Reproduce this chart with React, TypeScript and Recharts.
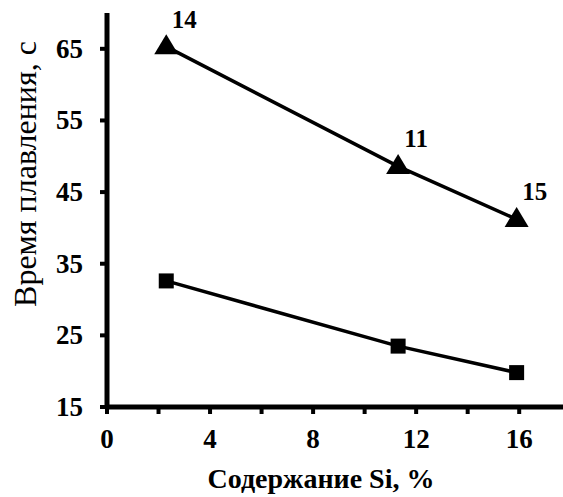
import React from 'react';
import { LineChart, Line, XAxis, YAxis, LabelList } from 'recharts';

// Содержание Si, %
const siContent = [2.3, 11.3, 15.9];
// Время плавления, с (верхняя серия — треугольники)
const upperTimes = [65.3, 48.6, 41.2];
// Номера образцов над треугольниками
const upperLabels = ['14', '11', '15'];
// Время плавления, с (нижняя серия — квадраты)
const lowerTimes = [32.6, 23.5, 19.8];

const xTicks = [0, 2, 4, 6, 8, 10, 12, 14, 16];
const yTicks = [15, 25, 35, 45, 55, 65];

const upperData = siContent.map((x, i) => ({ x, y: upperTimes[i], label: upperLabels[i] }));
const lowerData = siContent.map((x, i) => ({ x, y: lowerTimes[i] }));

const FONT = "'Liberation Serif', 'Times New Roman', serif";

const TriangleDot = (props: any) => {
  const { cx, cy } = props;
  if (cx == null || cy == null) return null;
  const w = 24;
  const h = 20;
  const pts = `${cx},${cy - h * 0.62} ${cx - w / 2},${cy + h * 0.38} ${cx + w / 2},${cy + h * 0.38}`;
  return <polygon points={pts} fill="#000" stroke="none" />;
};

const SquareDot = (props: any) => {
  const { cx, cy } = props;
  if (cx == null || cy == null) return null;
  const s = 15;
  return <rect x={cx - s / 2} y={cy - s / 2} width={s} height={s} fill="#000" />;
};

const XTick = (props: any) => {
  const { x, payload } = props;
  const v = payload.value;
  if (v % 4 !== 0) return null;
  return (
    <text x={x} y={448} textAnchor="middle" fontFamily={FONT} fontWeight="bold" fontSize={27} fill="#000">
      {v}
    </text>
  );
};

const YTick = (props: any) => {
  const { y, payload } = props;
  return (
    <text x={83} y={y + 9} textAnchor="end" fontFamily={FONT} fontWeight="bold" fontSize={27} fill="#000">
      {payload.value}
    </text>
  );
};

const PointLabel = (props: any) => {
  const { x, y, value } = props;
  return (
    <text x={x + 18} y={y - 19} textAnchor="middle" fontFamily={FONT} fontWeight="bold" fontSize={25} fill="#000">
      {value}
    </text>
  );
};

export default function App() {
  return (
    <div style={{ position: 'absolute', left: 0, top: 0, width: 563, height: 497, background: '#fff' }}>
      <LineChart width={563} height={497} margin={{ top: 13, right: 0, left: 0, bottom: 0 }}>
        <XAxis
          type="number"
          dataKey="x"
          domain={[0, 17.7]}
          allowDataOverflow
          ticks={xTicks}
          interval={0}
          height={90}
          tick={<XTick />}
          tickSize={7}
          axisLine={{ stroke: '#000', strokeWidth: 5 }}
          tickLine={{ stroke: '#000', strokeWidth: 4 }}
          label={(p: any) => (
            <text x={321} y={488} textAnchor="middle" fontFamily={FONT} fontWeight="bold" fontSize={28} fill="#000">
              Содержание Si, %
            </text>
          )}
        />
        <YAxis
          type="number"
          dataKey="y"
          domain={[15, 70]}
          ticks={yTicks}
          interval={0}
          width={107}
          tick={<YTick />}
          tickSize={7}
          axisLine={{ stroke: '#000', strokeWidth: 5 }}
          tickLine={{ stroke: '#000', strokeWidth: 4 }}
          label={(p: any) => (
            <text
              transform={`translate(36, 174) rotate(-90)`}
              textAnchor="middle"
              fontFamily={FONT}
              fontSize={32}
              fill="#000"
            >
              Время плавления, с
            </text>
          )}
        />
        <Line
          data={upperData}
          dataKey="y"
          stroke="#000"
          strokeWidth={3.5}
          dot={<TriangleDot />}
          activeDot={false}
          isAnimationActive={false}
        >
          <LabelList dataKey="label" content={<PointLabel />} />
        </Line>
        <Line
          data={lowerData}
          dataKey="y"
          stroke="#000"
          strokeWidth={3.5}
          dot={<SquareDot />}
          activeDot={false}
          isAnimationActive={false}
        />
      </LineChart>
    </div>
  );
}
